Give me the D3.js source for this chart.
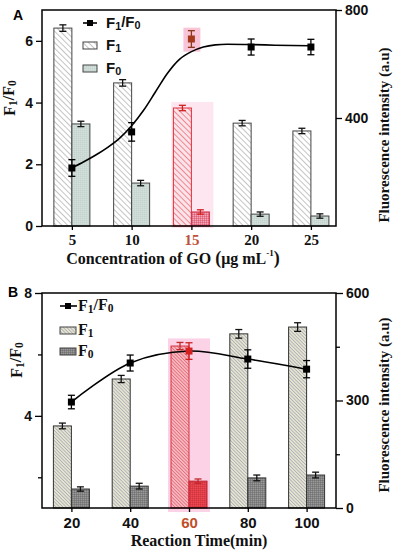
<!DOCTYPE html>
<html><head><meta charset="utf-8">
<script src="https://cdnjs.cloudflare.com/ajax/libs/d3/7.8.5/d3.min.js"></script>
<style>
html,body{margin:0;padding:0;background:#fff;}
svg{display:block;}
</style></head>
<body>
<svg id="chart" width="394" height="550"></svg>
<script>
// ---------- Panel A data ----------
const concA = [5, 10, 15, 20, 25];
const f1A = [733, 530, 437, 381, 352];
const f1AErr = [12, 12, 10, 10, 10];
const f0A = [378, 159, 52, 44, 37];
const f0AErr = [10, 10, 8, 8, 8];
const ratioA = [1.88, 3.05, 6.06, 5.8, 5.8];
const ratioAErr = [0.27, 0.3, 0.27, 0.26, 0.25];
// fitted curve in panel A
const fitAx = [5, 6, 7, 8, 9, 10, 11, 12, 13, 14, 15, 16, 17, 18, 20, 22, 25];
const fitAy = [1.88, 2.08, 2.3, 2.55, 2.85, 3.25, 3.75, 4.35, 4.95, 5.4, 5.65, 5.8, 5.87, 5.89, 5.88, 5.86, 5.84];
const ticksAL = [0, 2, 4, 6];
const ticksAR = [400, 800];

// ---------- Panel B data ----------
const timeB = [20, 40, 60, 80, 100];
const f1B = [229, 360, 452, 486, 505];
const f1BErr = [8, 10, 10, 12, 12];
const f0B = [53, 61, 75, 84, 92];
const f0BErr = [6, 8, 6, 8, 8];
const ratioB = [4.45, 5.72, 6.11, 5.85, 5.52];
const ratioBErr = [0.22, 0.26, 0.27, 0.3, 0.28];
const ticksBLmajor = [4, 8];
const ticksBLminor = [2, 6];
const ticksBRmajor = [0, 300, 600];
const ticksBRminor = [150, 450];

const svg = d3.select("#chart");
const SANS = "'Liberation Sans', Arial, sans-serif";
const SERIF = "'Liberation Serif', 'Times New Roman', serif";

// ---------- patterns ----------
const defs = svg.append("defs");
function hatch(id, bg, stroke, spacing, sw, angle) {
  const p = defs.append("pattern").attr("id", id).attr("patternUnits", "userSpaceOnUse")
    .attr("width", spacing).attr("height", spacing)
    .attr("patternTransform", `rotate(${angle})`);
  p.append("rect").attr("width", spacing).attr("height", spacing).attr("fill", bg);
  p.append("line").attr("x1", 0).attr("y1", 0).attr("x2", 0).attr("y2", spacing)
    .attr("stroke", stroke).attr("stroke-width", sw);
}
function checks(id, bg, stroke, spacing, sw) {
  const p = defs.append("pattern").attr("id", id).attr("patternUnits", "userSpaceOnUse")
    .attr("width", spacing).attr("height", spacing);
  p.append("rect").attr("width", spacing).attr("height", spacing).attr("fill", bg);
  p.append("path").attr("d", `M0,0H${spacing}M0,0V${spacing}`)
    .attr("stroke", stroke).attr("stroke-width", sw).attr("fill", "none");
}
hatch("hA1", "#ffffff", "#8a8a8a", 4, 1, -45);
hatch("hA1red", "#fbe3ea", "#e0303a", 4, 1, -45);
checks("cA0", "#d3e0dc", "#b7c9c4", 2, 0.6);
checks("cA0red", "#f2a6b8", "#d0304a", 2, 0.7);
hatch("hB1", "#e6e3cf", "#7d87a8", 2.4, 0.9, -45);
hatch("hB1red", "#f6b8c0", "#d83040", 2.4, 0.9, -45);
checks("cB0", "#9a9a9a", "#555555", 2, 0.7);
checks("cB0red", "#f04850", "#b02030", 2, 0.6);

// ---------- helpers ----------
function fText(g, x, y, font, size, main, sub, rotate) {
  const t = g.append("text").attr("x", x).attr("y", y)
    .attr("font-family", font).attr("font-weight", "bold").attr("font-size", size).attr("fill", "#111");
  if (rotate) t.attr("transform", `rotate(-90,${x},${y})`).attr("text-anchor", "middle");
  main.forEach((m, i) => {
    t.append("tspan").text(m).attr("dy", i === 0 ? 0 : "-0.15em").attr("font-size", size);
    if (sub[i] !== undefined) t.append("tspan").text(sub[i]).attr("dy", "0.15em").attr("font-size", size * 0.72);
  });
  return t;
}
function errBar(g, x, y0, y1, color, cap) {
  g.append("line").attr("x1", x).attr("x2", x).attr("y1", y0).attr("y2", y1).attr("stroke", color).attr("stroke-width", 1.3);
  [y0, y1].forEach(yy => g.append("line").attr("x1", x - cap).attr("x2", x + cap).attr("y1", yy).attr("y2", yy)
    .attr("stroke", color).attr("stroke-width", 1.3));
}

const BW = 18;

// ================= PANEL A =================
const gA = svg.append("g");
const xA = d3.scaleLinear().domain([2.5, 27.1]).range([42, 336]);
const yAL = d3.scaleLinear().domain([0, 7]).range([226, 10]);
const yAR = d3.scaleLinear().domain([0, 800]).range([226, 10]);

// highlight backgrounds at 15
gA.append("rect").attr("x", xA(15) - BW - 2).attr("y", yAR(f1A[2]) - 6).attr("width", BW * 2 + 6).attr("height", yAR(0) - yAR(f1A[2]) + 8)
  .attr("fill", "#fde6ef");
gA.append("rect").attr("x", xA(15) - 8).attr("y", yAL(ratioA[2] + ratioAErr[2]) - 3).attr("width", 17).attr("height", 24)
  .attr("fill", "#f8c4d8");

// bars
concA.forEach((c, i) => {
  const hl = c === 15;
  gA.append("rect").attr("x", xA(c) - BW).attr("y", yAR(f1A[i])).attr("width", BW).attr("height", yAR(0) - yAR(f1A[i]))
    .attr("fill", hl ? "url(#hA1red)" : "url(#hA1)").attr("stroke", hl ? "#e0303a" : "#444").attr("stroke-width", 1);
  gA.append("rect").attr("x", xA(c)).attr("y", yAR(f0A[i])).attr("width", BW).attr("height", yAR(0) - yAR(f0A[i]))
    .attr("fill", hl ? "url(#cA0red)" : "url(#cA0)").attr("stroke", hl ? "#d0304a" : "#444").attr("stroke-width", 1);
  errBar(gA, xA(c) - BW / 2, yAR(f1A[i] + f1AErr[i]), yAR(f1A[i] - f1AErr[i]), hl ? "#d02020" : "#111", 3.5);
  errBar(gA, xA(c) + BW / 2, yAR(f0A[i] + f0AErr[i]), yAR(f0A[i] - f0AErr[i]), hl ? "#d02020" : "#111", 3.5);
});

// fitted curve
gA.append("path").datum(fitAx.map((x, i) => [x, fitAy[i]]))
  .attr("d", d3.line().x(d => xA(d[0])).y(d => yAL(d[1])).curve(d3.curveMonotoneX))
  .attr("fill", "none").attr("stroke", "#000").attr("stroke-width", 1.6);

// ratio points
concA.forEach((c, i) => {
  const hl = c === 15;
  errBar(gA, xA(c), yAL(ratioA[i] + ratioAErr[i]), yAL(ratioA[i] - ratioAErr[i]), hl ? "#8a3a1a" : "#000", 3.5);
  gA.append("rect").attr("x", xA(c) - 3.5).attr("y", yAL(ratioA[i]) - 3.5).attr("width", 7).attr("height", 7)
    .attr("fill", hl ? "#a33a1c" : "#000");
});

// frame
gA.append("rect").attr("x", 42).attr("y", 10).attr("width", 294).attr("height", 216)
  .attr("fill", "none").attr("stroke", "#000").attr("stroke-width", 1.5);

// axes
const axAL = gA.append("g").attr("transform", "translate(42,0)")
  .call(d3.axisLeft(yAL).tickValues(ticksAL).tickSize(6).tickPadding(3).tickFormat(d3.format("d")));
const axAR = gA.append("g").attr("transform", "translate(336,0)")
  .call(d3.axisRight(yAR).tickValues(ticksAR).tickSize(6).tickPadding(3).tickFormat(d3.format("d")));
const axAB = gA.append("g").attr("transform", "translate(0,226)")
  .call(d3.axisBottom(xA).tickValues(concA).tickSize(4).tickPadding(4).tickFormat(d3.format("d")));
[axAL, axAR].forEach(a => a.selectAll("text").attr("font-family", SANS).attr("font-weight", "bold").attr("font-size", 14).attr("fill", "#111"));
axAB.selectAll("text").attr("font-family", SERIF).attr("font-weight", "bold").attr("font-size", 15).attr("fill", d => d === 15 ? "#c0503a" : "#111");
[axAL, axAR, axAB].forEach(a => { a.select(".domain").remove(); a.selectAll("line").attr("stroke-width", 1.3); });

// titles
gA.append("text").attr("x", 18).attr("y", 16).text("A").attr("font-family", SANS).attr("font-weight", "bold").attr("font-size", 14).attr("text-anchor", "middle").attr("dominant-baseline", "middle");
fText(gA, 15, 98, SERIF, 16, ["F", "/F"], ["1", "0"], true);
gA.append("text").attr("x", 389).attr("y", 135).attr("transform", "rotate(-90,389,135)").attr("text-anchor", "middle")
  .attr("font-family", SERIF).attr("font-weight", "bold").attr("font-size", 15).attr("fill", "#111")
  .text("Fluorescence intensity (a.u)");
const tA = gA.append("text").attr("x", 173).attr("y", 264).attr("text-anchor", "middle")
  .attr("font-family", SERIF).attr("font-weight", "bold").attr("font-size", 16).attr("fill", "#111");
tA.append("tspan").text("Concentration of GO ");
tA.append("tspan").text("(").attr("font-size", 18);
tA.append("tspan").text("μg mL");
tA.append("tspan").text("-1").attr("font-size", 9).attr("dy", "-0.9em");
tA.append("tspan").text(")").attr("font-size", 18).attr("dy", "0.45em");

// legend A
gA.append("line").attr("x1", 83).attr("x2", 97).attr("y1", 23).attr("y2", 23).attr("stroke", "#000").attr("stroke-width", 1.6);
gA.append("rect").attr("x", 87).attr("y", 20).attr("width", 6).attr("height", 6).attr("fill", "#000");
fText(gA, 106, 28, SANS, 15, ["F", "/F"], ["1", "0"], false);
gA.append("rect").attr("x", 83).attr("y", 42).attr("width", 14).attr("height", 7).attr("fill", "url(#hA1)").attr("stroke", "#444");
fText(gA, 106, 50, SANS, 15, ["F"], ["1"], false);
gA.append("rect").attr("x", 83).attr("y", 65).attr("width", 14).attr("height", 7).attr("fill", "url(#cA0)").attr("stroke", "#444");
fText(gA, 106, 73, SANS, 15, ["F"], ["0"], false);

// ================= PANEL B =================
const gB = svg.append("g");
const xB = d3.scaleLinear().domain([10, 110]).range([42, 336]);
const yBL = d3.scaleLinear().domain([1, 8]).range([508, 293]);
const yBR = d3.scaleLinear().domain([0, 600]).range([508, 293]);

// highlight at 60
gB.append("rect").attr("x", xB(60) - BW - 3).attr("y", yBR(f1B[2] + f1BErr[2]) - 4).attr("width", BW * 2 + 6).attr("height", yBR(0) - yBR(f1B[2] + f1BErr[2]) + 8)
  .attr("fill", "#fbd2e6");

timeB.forEach((t, i) => {
  const hl = t === 60;
  gB.append("rect").attr("x", xB(t) - BW).attr("y", yBR(f1B[i])).attr("width", BW).attr("height", yBR(0) - yBR(f1B[i]))
    .attr("fill", hl ? "url(#hB1red)" : "url(#hB1)").attr("stroke", hl ? "#d83040" : "#333").attr("stroke-width", 1);
  gB.append("rect").attr("x", xB(t)).attr("y", yBR(f0B[i])).attr("width", BW).attr("height", yBR(0) - yBR(f0B[i]))
    .attr("fill", hl ? "url(#cB0red)" : "url(#cB0)").attr("stroke", hl ? "#c02030" : "#333").attr("stroke-width", 1);
  errBar(gB, xB(t) - BW / 2, yBR(f1B[i] + f1BErr[i]), yBR(f1B[i] - f1BErr[i]), hl ? "#c02a2a" : "#111", 3.5);
  errBar(gB, xB(t) + BW / 2, yBR(f0B[i] + f0BErr[i]), yBR(f0B[i] - f0BErr[i]), hl ? "#c02a2a" : "#111", 3.5);
});

gB.append("path").datum(timeB.map((t, i) => [t, ratioB[i]]))
  .attr("d", d3.line().x(d => xB(d[0])).y(d => yBL(d[1])).curve(d3.curveCatmullRom))
  .attr("fill", "none").attr("stroke", "#000").attr("stroke-width", 1.6);

timeB.forEach((t, i) => {
  const hl = t === 60;
  errBar(gB, xB(t), yBL(ratioB[i] + ratioBErr[i]), yBL(ratioB[i] - ratioBErr[i]), hl ? "#d02020" : "#000", 3.5);
  gB.append("rect").attr("x", xB(t) - 3.5).attr("y", yBL(ratioB[i]) - 3.5).attr("width", 7).attr("height", 7)
    .attr("fill", hl ? "#d42020" : "#000");
});

gB.append("rect").attr("x", 42).attr("y", 293).attr("width", 294).attr("height", 215)
  .attr("fill", "none").attr("stroke", "#000").attr("stroke-width", 1.5);

const axBL = gB.append("g").attr("transform", "translate(42,0)")
  .call(d3.axisLeft(yBL).tickValues(ticksBLmajor).tickSize(7).tickPadding(3).tickFormat(d3.format("d")));
gB.append("g").attr("transform", "translate(42,0)")
  .call(d3.axisLeft(yBL).tickValues(ticksBLminor).tickSize(4).tickFormat(""))
  .call(a => { a.select(".domain").remove(); a.selectAll("line").attr("stroke-width", 1.3); });
const axBR = gB.append("g").attr("transform", "translate(336,0)")
  .call(d3.axisRight(yBR).tickValues(ticksBRmajor).tickSize(7).tickPadding(3).tickFormat(d3.format("d")));
gB.append("g").attr("transform", "translate(336,0)")
  .call(d3.axisRight(yBR).tickValues(ticksBRminor).tickSize(4).tickFormat(""))
  .call(a => { a.select(".domain").remove(); a.selectAll("line").attr("stroke-width", 1.3); });
const axBB = gB.append("g").attr("transform", "translate(0,508)")
  .call(d3.axisBottom(xB).tickValues(timeB).tickSize(4).tickPadding(5).tickFormat(d3.format("d")));
[axBL, axBR].forEach(a => a.selectAll("text").attr("font-family", SANS).attr("font-weight", "bold").attr("font-size", 14).attr("fill", "#111"));
axBB.selectAll("text").attr("font-family", SANS).attr("font-weight", "bold").attr("font-size", 15).attr("fill", d => d === 60 ? "#c0502a" : "#111");
[axBL, axBR, axBB].forEach(a => { a.select(".domain").remove(); a.selectAll("line").attr("stroke-width", 1.3); });

gB.append("text").attr("x", 13).attr("y", 293).text("B").attr("font-family", SANS).attr("font-weight", "bold").attr("font-size", 14).attr("text-anchor", "middle").attr("dominant-baseline", "middle");
fText(gB, 22, 360, SERIF, 16, ["F", "/F"], ["1", "0"], true);
gB.append("text").attr("x", 389).attr("y", 405).attr("transform", "rotate(-90,389,405)").attr("text-anchor", "middle")
  .attr("font-family", SERIF).attr("font-weight", "bold").attr("font-size", 15).attr("fill", "#111")
  .text("Fluorescence intensity (a.u)");
gB.append("text").attr("x", 199).attr("y", 546).attr("text-anchor", "middle")
  .attr("font-family", SERIF).attr("font-weight", "bold").attr("font-size", 16).attr("fill", "#111")
  .text("Reaction Time(min)");

// legend B
gB.append("line").attr("x1", 60).attr("x2", 77).attr("y1", 306).attr("y2", 306).attr("stroke", "#000").attr("stroke-width", 1.6);
gB.append("rect").attr("x", 65).attr("y", 303).attr("width", 6).attr("height", 6).attr("fill", "#000");
fText(gB, 78, 311, SERIF, 16, ["F", "/F"], ["1", "0"], false);
gB.append("rect").attr("x", 60).attr("y", 327).attr("width", 16).attr("height", 7).attr("fill", "url(#hB1)").attr("stroke", "#444");
fText(gB, 78, 335, SERIF, 16, ["F"], ["1"], false);
gB.append("rect").attr("x", 60).attr("y", 348).attr("width", 16).attr("height", 7).attr("fill", "url(#cB0)").attr("stroke", "#444");
fText(gB, 78, 356, SERIF, 16, ["F"], ["0"], false);
</script>
</body></html>
